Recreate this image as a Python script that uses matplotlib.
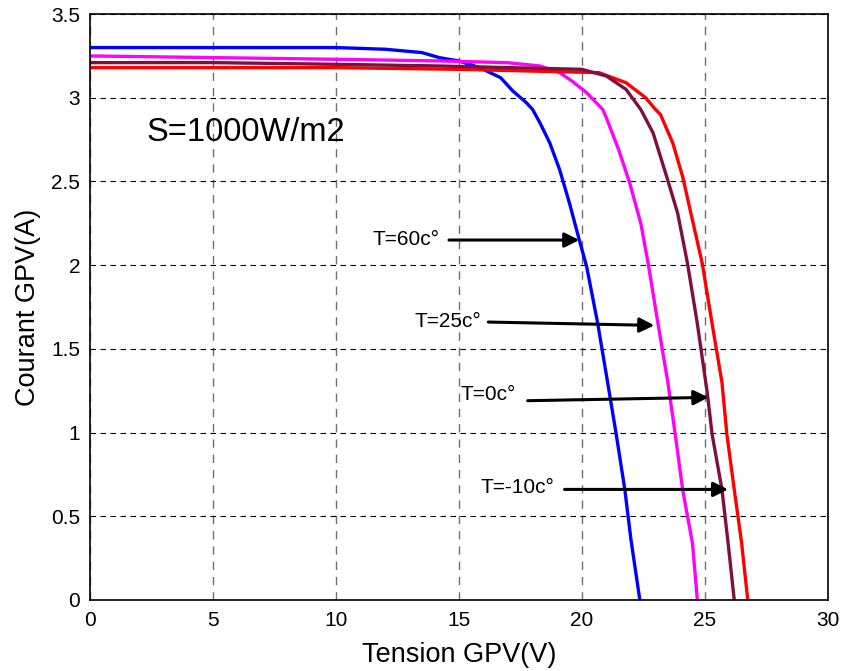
import matplotlib.pyplot as plt

plt.rcParams['font.family'] = ['Liberation Sans', 'DejaVu Sans']

# I-V curves (V in volts, I in amps)
v_60 = [0, 5, 10, 12.0, 13.5, 14.2, 15.0, 15.85, 16.7, 17.2, 17.75, 18.0, 18.3, 18.7, 19.1,
        19.5, 19.9, 20.2, 20.65, 21.05, 21.4, 21.75, 22.0, 22.36]
i_60 = [3.30, 3.30, 3.30, 3.29, 3.27, 3.24, 3.22, 3.18, 3.12, 3.04, 2.97, 2.93, 2.85, 2.73, 2.57,
        2.37, 2.15, 1.99, 1.65, 1.30, 0.99, 0.66, 0.36, 0.0]

v_25 = [0, 5, 10, 14.2, 16.95, 18.3, 19.1, 19.6, 20.2, 20.85, 21.0, 21.5, 21.95, 22.4, 22.7,
        23.1, 23.5, 23.8, 24.1, 24.5, 24.7]
i_25 = [3.25, 3.24, 3.23, 3.22, 3.21, 3.19, 3.15, 3.10, 3.03, 2.93, 2.88, 2.69, 2.49, 2.25, 2.01,
        1.65, 1.30, 0.99, 0.66, 0.34, 0.0]

v_0 = [0, 5, 10, 14.2, 20.0, 21.0, 21.8, 22.4, 22.9, 23.45, 23.9, 24.3, 24.7, 25.1, 25.3,
       25.7, 25.95, 26.2]
i_0 = [3.21, 3.21, 3.20, 3.19, 3.17, 3.13, 3.05, 2.93, 2.79, 2.53, 2.31, 2.01, 1.65, 1.24, 0.99,
       0.66, 0.34, 0.0]

v_m10 = [0, 5, 10, 15, 20.7, 21.8, 22.6, 23.0, 23.2, 23.7, 24.1, 24.5, 24.9, 25.3, 25.7,
         25.9, 26.2, 26.5, 26.75]
i_m10 = [3.18, 3.18, 3.18, 3.17, 3.15, 3.09, 3.00, 2.93, 2.90, 2.73, 2.53, 2.27, 2.01, 1.65, 1.30,
         0.99, 0.66, 0.34, 0.0]

labels = ['T=60c°', 'T=25c°', 'T=0c°', 'T=-10c°']
label_xy = [(14.2, 2.155), (15.9, 1.665), (17.3, 1.225), (18.9, 0.67)]
arrow_from = [(14.6, 2.15), (16.2, 1.66), (17.8, 1.19), (19.3, 0.66)]
arrow_to = [(19.9, 2.15), (22.95, 1.64), (25.15, 1.21), (25.95, 0.66)]

fig = plt.figure(figsize=(8.45, 6.71), dpi=100)
ax = fig.add_axes([0.1065, 0.106, 0.873, 0.873])

ax.plot(v_60, i_60, color='#0000ff', lw=2.4)
ax.plot(v_25, i_25, color='#ff00ff', lw=2.4)
ax.plot(v_m10, i_m10, color='#ff0000', lw=2.4)
ax.plot(v_0, i_0, color='#7f0f3f', lw=2.4)

ax.set_xlim(0, 30)
ax.set_ylim(0, 3.5)
ax.set_xticks([0, 5, 10, 15, 20, 25, 30])
ax.set_yticks([0, 0.5, 1, 1.5, 2, 2.5, 3, 3.5])
ax.set_yticklabels(['0', '0.5', '1', '1.5', '2', '2.5', '3', '3.5'])
ax.tick_params(labelsize=15, direction='in', length=0)
ax.tick_params(axis='x', pad=8)
ax.tick_params(axis='y', pad=7)

# dashed grid: vertical grey, horizontal black
ax.xaxis.grid(True, color='#707070', linestyle=(0, (6, 5)), lw=1.0)
ax.yaxis.grid(True, color='black', linestyle=(0, (5, 4)), lw=0.8)
ax.set_axisbelow(True)
for s in ax.spines.values():
    s.set_linewidth(1.2)

ax.set_xlabel('Tension GPV(V)', fontsize=19.5, labelpad=9)
ax.set_ylabel('Courant GPV(A)', fontsize=19.5, labelpad=7)

ax.text(2.3, 2.79, 'S=1000W/m2', fontsize=23.5, va='center')

for lab, (tx, ty), p0, p1 in zip(labels, label_xy, arrow_from, arrow_to):
    ax.text(tx, ty, lab, fontsize=15, ha='right', va='center')
    ax.annotate('', xy=p1, xytext=p0,
                arrowprops=dict(arrowstyle='-|>', color='black', lw=2.2,
                                mutation_scale=22, shrinkA=0, shrinkB=0))

fig.savefig('out.png', dpi=100)
